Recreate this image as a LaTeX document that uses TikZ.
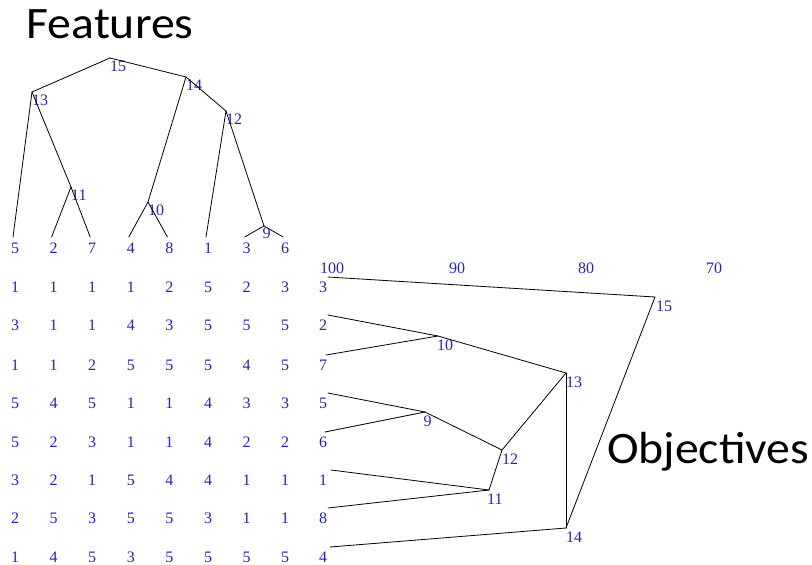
\documentclass[tikz,border=0pt]{standalone}
\usepackage{fontspec}
\setmainfont{Liberation Serif}
\newfontfamily\titlefont{Carlito}
\usetikzlibrary{positioning}
\definecolor{dgblue}{HTML}{2222CC}

\begin{document}
\begin{tikzpicture}[x=1pt, y=-1pt, line cap=round, line join=round,
  num/.style={text=dgblue, font=\fontsize{16}{16}\selectfont, inner sep=0pt},
  branch/.style={draw=black, line width=0.8pt},
  title/.style={font=\titlefont\fontsize{45}{45}\selectfont, inner sep=0pt,
    xscale=1.06}]
  \path[use as bounding box] (0,0) rectangle (812,565);
  \node[title, anchor=base] (feattitle) at (110,38) {Features};
  \node[title, anchor=base west] (objtitle) at (607,463) {Objectives};
  % data matrix: rows top to bottom, columns in feature leaf order
  \foreach \y/\row [count=\r] in {287/{1,1,1,1,2,5,2,3}, 325/{3,1,1,4,3,5,5,5},
      365/{1,1,2,5,5,5,4,5}, 403/{5,4,5,1,1,4,3,3}, 442/{5,2,3,1,1,4,2,2},
      480/{3,2,1,5,4,4,1,1}, 518/{2,5,3,5,5,3,1,1}, 557/{1,4,5,3,5,5,5,5}} {
    \foreach \v [count=\c] in \row {
      \node[num] (m-\r-\c) at ({15+38.6*(\c-1)},\y) {\v};
    }
  }
  % feature tree: leaves
  \foreach \lab [count=\c] in {5,2,7,4,8,1,3,6} {
    \node[num] (fl\lab) at ({15+38.6*(\c-1)},248) {\lab};
    \coordinate (ft\lab) at ({13+38.6*(\c-1)},237);
  }
  % feature tree: joints
  \coordinate (F15) at (110,58);
  \coordinate (F13) at (32,92);
  \coordinate (F14) at (186,77);
  \coordinate (F12) at (226,111);
  \coordinate (F11) at (71,187);
  \coordinate (F10) at (148,202);
  \coordinate (F9) at (264,226);
  \foreach \j in {15,13,14,12,11,10} {
    \node[num, below right=3pt and 0pt of F\j] (fj\j) {\j};
  }
  \node[num, below right=1.5pt and -1.5pt of F9] (fj9) {9};
  \foreach \a/\b in {F15/F13, F15/F14, F13/ft5, F13/F11, F11/ft2, F11/ft7,
      F14/F10, F14/F12, F10/ft4, F10/ft8, F12/ft1, F12/F9, F9/ft3, F9/ft6} {
    \draw[branch] (\a) -- (\b);
  }
  % objective tree: scale
  \foreach \x/\lab in {332/100, 457/90, 586/80, 714/70} {
    \node[num] (sc\lab) at (\x,268) {\lab};
  }
  % objective tree: leaves
  \foreach \lab/\y/\xs in {3/287/328, 2/325/328, 7/365/326, 5/403/328,
      6/442/325, 1/480/331, 8/518/328, 4/557/330} {
    \node[num] (ol\lab) at (323,\y) {\lab};
    \coordinate (ot\lab) at (\xs,{\y-10});
  }
  % objective tree: joints
  \coordinate (O15) at (655,297);
  \coordinate (O10) at (438,336);
  \coordinate (O13) at (566,373);
  \coordinate (O9) at (425,412);
  \coordinate (O12) at (502,450);
  \coordinate (O11) at (489,490);
  \coordinate (O14) at (566,528);
  \foreach \j/\dx in {15/1, 10/-1, 13/0, 12/0, 11/-2, 14/0} {
    \node[num, below right=3.5pt and \dx pt of O\j] (oj\j) {\j};
  }
  \node[num, below right=4pt and -1.5pt of O9] (oj9) {9};
  \foreach \a/\b in {ot3/O15, ot2/O10, ot7/O10, O10/O13, ot5/O9, ot6/O9,
      O9/O12, ot1/O11, ot8/O11, O11/O12, O12/O13, O13/O14, ot4/O14, O14/O15} {
    \draw[branch] (\a) -- (\b);
  }
\end{tikzpicture}
\end{document}
